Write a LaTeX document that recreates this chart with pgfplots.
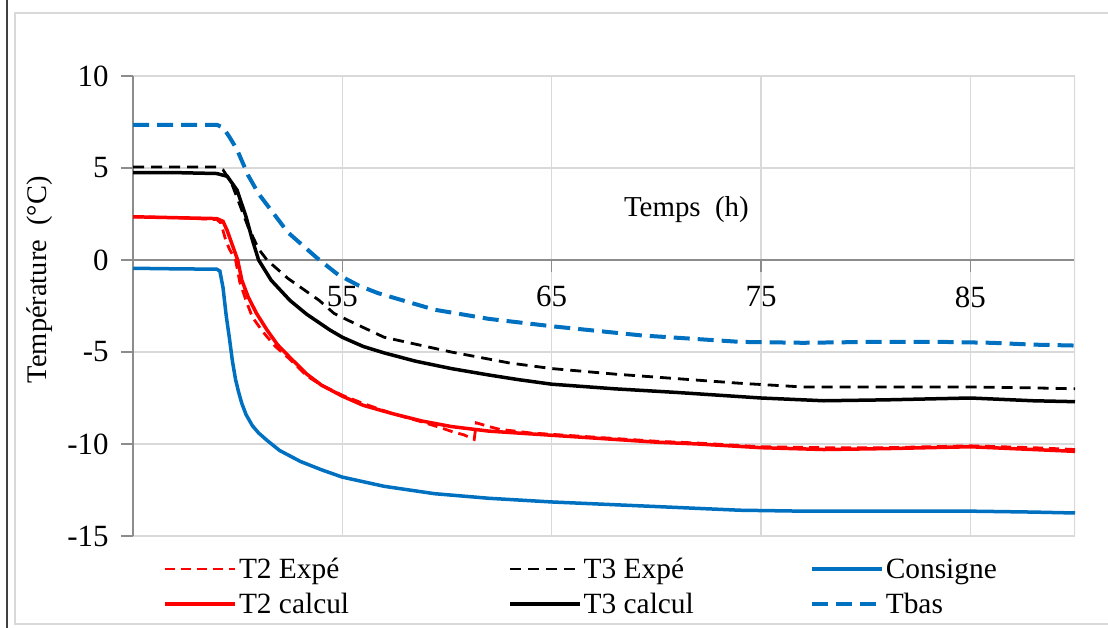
\documentclass[border=0pt]{standalone}
\usepackage{pgfplots}
\pgfplotsset{compat=1.18}
\usepackage{fontspec}
\setmainfont{Liberation Serif}
\definecolor{cblue}{RGB}{0,112,192}
\definecolor{cred}{RGB}{255,0,0}
\definecolor{gridc}{RGB}{217,217,217}
\definecolor{axc}{RGB}{140,140,140}
\begin{document}
\begin{tikzpicture}
\useasboundingbox (0bp,0bp) rectangle (1108bp,628bp);
\fill[white] (0bp,0bp) rectangle (1108bp,628bp);
\draw[gridc, line width=1.5bp] (1112bp,615bp) -- (15bp,615bp) -- (15bp,4bp) -- (1112bp,4bp);
\draw[black!75, line width=1.2bp] (7bp,0bp) -- (7bp,628bp);
\begin{axis}[
  at={(133bp,92bp)}, anchor=south west,
  scale only axis, width=942bp, height=460bp,
  xmin=45, xmax=90, ymin=-15, ymax=10,
  axis x line*=middle, axis y line*=left,
  axis line style={axc, line width=1.2bp, -},
  xtick={45,55,65,75,85}, xticklabels={45,55,65,75,85},
  ytick={-15,-10,-5,0,5,10}, yticklabels={-15,-10,-5,0,5,10},
  grid=major, major grid style={gridc, line width=1.2bp},
  tick style={axc, line width=1.2bp}, major tick length=12bp, tick align=outside,
  tick label style={font=\fontsize{31}{32}\selectfont},
  xticklabel style={yshift=-11bp},
  yticklabel style={xshift=-9bp},
  xlabel={Temps\ \ (h)}, ylabel={Température\ \ (°C)},
  xlabel style={at={(axis description cs:0.5875,0.709)}, anchor=center, font=\fontsize{29}{30}\selectfont},
  ylabel style={at={(axis description cs:-0.099,0.557)}, anchor=center, font=\fontsize{28.5}{30}\selectfont},
  legend columns=3,
  legend cell align=left,
  legend style={at={(axis description cs:0.029,-0.039)}, anchor=north west, draw=none, fill=none,
    font=\fontsize{29.5}{32}\selectfont, row sep=9bp, nodes={inner sep=2bp},
    /tikz/column 2/.style={column sep=157bp}, /tikz/column 4/.style={column sep=114bp}},
  legend image code/.code={\draw[#1] (0bp,0bp) -- (70bp,0bp);},
]
\draw[gridc, line width=1.2bp] (rel axis cs:1,0) -- (rel axis cs:1,1);
% T2 Expe
\addplot[cred, line width=2.8bp, dash pattern=on 10bp off 6bp] coordinates {
(45,2.35) (47,2.3) (49,2.2) (49.2,2.0) (49.4,1.2) (49.6,0.6) (49.9,0) (50.1,-1.2) (50.4,-2.2) (50.7,-3.1) (51.2,-3.9) (51.8,-4.7) (52.5,-5.4) (53.3,-6.3) (54,-6.8) (55,-7.35) (56,-7.8) (57.4,-8.35) (58.8,-8.8) (59.8,-9.15) (60.3,-9.35) (60.8,-9.5) (61.3,-9.75) (61.4,-8.85) (62,-9.05) (62.5,-9.2) (64,-9.4) (66,-9.55) (68,-9.7) (70,-9.85) (72,-9.95) (75,-10.15) (78,-10.2) (81,-10.2) (85,-10.1) (88,-10.2) (90,-10.3)};
\addlegendentry{T2 Expé}
% T3 Expe
\addplot[black, line width=2.8bp, dash pattern=on 11bp off 7bp] coordinates {
(45,5.05) (47,5.05) (49,5.05) (49.3,4.9) (49.7,4.2) (50.1,3.0) (50.5,1.8) (51.0,0.6) (51.4,0) (52.4,-1.0) (53.9,-2.2) (54.6,-2.9) (55.5,-3.4) (57,-4.2) (60.2,-5.0) (63,-5.6) (65,-5.9) (68,-6.2) (71,-6.45) (74,-6.7) (77,-6.9) (80,-6.9) (85,-6.9) (88,-6.95) (90,-7.0)};
\addlegendentry{T3 Expé}
% Consigne
\addplot[cblue, line width=3.5bp] coordinates {
(45,-0.45) (47,-0.48) (49,-0.5) (49.15,-0.6) (49.3,-1.5) (49.45,-3) (49.6,-4.2) (49.75,-5.5) (49.9,-6.5) (50.05,-7.2) (50.2,-7.8) (50.4,-8.4) (50.7,-9.0) (51.0,-9.4) (51.4,-9.8) (52,-10.35) (53,-10.95) (54,-11.4) (55,-11.8) (56,-12.05) (57,-12.3) (59.4,-12.7) (62,-12.95) (65,-13.15) (68,-13.3) (71,-13.45) (74,-13.6) (77,-13.65) (80,-13.65) (85,-13.65) (88,-13.7) (90,-13.75)};
\addlegendentry{Consigne}
% T2 calcul
\addplot[cred, line width=3.5bp] coordinates {
(45,2.35) (47,2.3) (49,2.25) (49.3,2.1) (49.5,1.6) (49.75,0.8) (50.0,0) (50.2,-1.1) (50.5,-2.0) (50.9,-2.9) (51.4,-3.8) (51.9,-4.6) (52.5,-5.3) (53.3,-6.2) (54,-6.8) (55,-7.4) (56,-7.9) (57.4,-8.35) (58.8,-8.75) (60.2,-9.05) (62,-9.3) (64,-9.45) (66,-9.6) (68,-9.75) (70,-9.9) (72,-10.0) (75,-10.2) (78,-10.3) (81,-10.25) (85,-10.15) (88,-10.3) (90,-10.4)};
\addlegendentry{T2 calcul}
% T3 calcul
\addplot[black, line width=3.5bp] coordinates {
(45,4.75) (47,4.75) (49,4.7) (49.5,4.55) (49.97,3.8) (50.4,2.35) (50.7,1.1) (51.0,0) (51.6,-1.1) (52.5,-2.2) (53.3,-2.95) (54.4,-3.8) (55,-4.2) (56,-4.7) (57,-5.05) (58.5,-5.5) (60.2,-5.9) (62,-6.25) (63.4,-6.5) (65,-6.75) (68,-7.0) (71,-7.2) (75,-7.5) (78,-7.65) (81,-7.6) (85,-7.5) (88,-7.65) (90,-7.7)};
\addlegendentry{T3 calcul}
% Tbas
\addplot[cblue, line width=4bp, dash pattern=on 16bp off 8bp] coordinates {
(45,7.35) (47,7.35) (49,7.35) (49.3,7.2) (49.6,6.7) (49.97,6.0) (50.5,4.6) (51.0,3.6) (51.4,3.0) (52.4,1.5) (53.8,0.1) (54.8,-0.8) (55.8,-1.4) (56.7,-1.8) (59.4,-2.7) (62,-3.2) (65,-3.6) (69.3,-4.1) (74,-4.45) (77,-4.5) (80.4,-4.45) (83.6,-4.45) (86,-4.5) (88,-4.6) (90,-4.65)};
\addlegendentry{Tbas}
\end{axis}
\end{tikzpicture}
\end{document}
